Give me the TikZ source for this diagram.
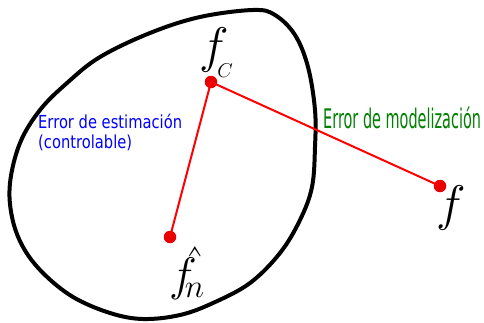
\RequirePackage{fix-cm}
\documentclass[tikz,border=0pt]{standalone}
\usepackage{fontspec}
\usepackage{graphicx}
\newfontfamily\djv{DejaVu Sans}
\definecolor{dotred}{RGB}{230,0,0}
\definecolor{linered}{RGB}{255,0,0}
\definecolor{errgreen}{RGB}{0,128,0}
\begin{document}
\begin{tikzpicture}[x=1pt,y=1pt,
  dot/.style={circle,fill=dotred,inner sep=0pt,minimum size=12.5pt},
  link/.style={linered,line width=2pt},
  mathlbl/.style={inner sep=0pt,anchor=base west,font=\fontsize{50}{50}\selectfont},
  bluelbl/.style={inner sep=0pt,anchor=base west,align=left,text=blue,yscale=1.22,transform shape,font=\djv\fontsize{14.7}{15.8}\selectfont},
  greenlbl/.style={inner sep=0pt,anchor=base west,text=errgreen}
]
\useasboundingbox (0,0) rectangle (484,322);
% set (region C)
\draw[line width=4pt] plot[smooth cycle,tension=0.6] coordinates {
 (253,312) (200,305) (150,289) (100,265) (67,239) (40,212) (20,179)
 (10,139) (12,105) (23,75) (43,49) (73,25) (110,9) (143,3) (180,7)
 (213,19) (250,39) (280,69) (300,102) (312,135) (315,175) (315,212)
 (308,255) (295,287) (275,307)};
% points
\node[dot] (fc) at (211,240) {};
\node[dot] (fn) at (170,85) {};
\node[dot] (f) at (440,136) {};
\draw[link] (fc.center) -- (fn.center);
\draw[link] (fc.center) -- (f.center);
% labels
\node[mathlbl] (lfc) at (199,259) {$f_{\hspace{-6pt}\raisebox{-7pt}{\fontsize{20}{20}\selectfont$C$}}$};
\node[mathlbl] (lf) at (436,102) {$f$};
\node[mathlbl,font=\fontsize{47}{47}\selectfont] (lfn) at (169,32) {\rlap{\hspace{26pt}\raisebox{-5pt}{\scalebox{1.0}[1.5]{$\hat{}$}}}$f_{\hspace{-7pt}n}$};
\node[bluelbl] (est) at (38,174) {Error de estimación\\(controlable)};
\node[greenlbl] (mod) at (323,193.7) {\scalebox{0.535}[1]{\djv\fontsize{27}{27}\selectfont Error de modelización}};
\end{tikzpicture}
\end{document}
